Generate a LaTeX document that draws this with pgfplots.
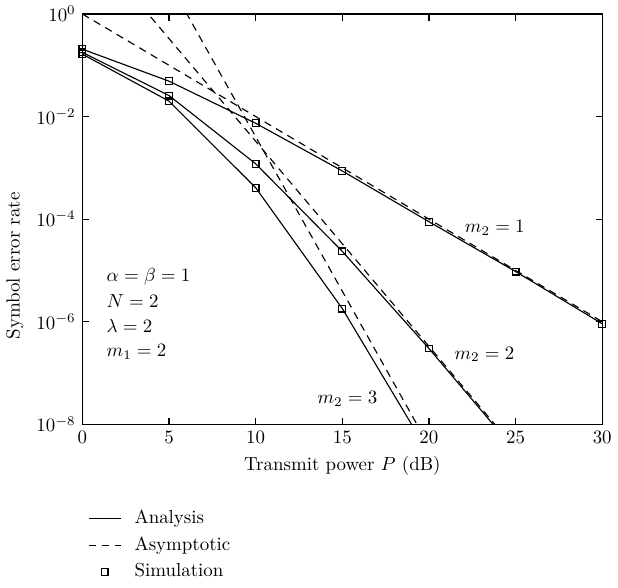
\documentclass[border=0pt]{standalone}
\usepackage{pgfplots}
\pgfplotsset{compat=1.18}

\begin{document}
\begin{tikzpicture}
\begin{axis}[
    scale only axis,
    width=275pt, height=217pt,
    xmin=0, xmax=30, ymode=log, ymin=1e-8, ymax=1,
    xtick={0,5,10,15,20,25,30},
    ytick={1,1e-2,1e-4,1e-6,1e-8},
    yminorticks=false,
    tick align=inside,
    major tick length=3.5pt,
    axis line style={line width=0.6pt},
    every tick/.style={black, line width=0.6pt},
    xlabel={Transmit power $P$ (dB)},
    ylabel={Symbol error rate},
    ylabel style={at={(ticklabel cs:0.386)}},
    legend style={at={(0.01,-0.19)}, anchor=north west, draw=none, fill=none,
        inner xsep=0pt, row sep=1.5pt,
        /tikz/every odd column/.append style={column sep=5pt}},
    legend cell align=left,
    clip=true,
]
\addlegendimage{black, line width=0.6pt}
\addlegendentry{Analysis}
\addlegendimage{black, line width=0.6pt, dash pattern=on 4pt off 3pt}
\addlegendentry{Asymptotic}
\addlegendimage{only marks, mark=square, mark size=1.8pt, black, mark options={line width=0.6pt}}
\addlegendentry{Simulation}

% analysis, m2 = 1, 2, 3
\addplot[black, line width=0.6pt, forget plot] coordinates {
    (0,0.206) (5,0.049) (10,7.4e-3) (15,8.7e-4) (20,8.9e-5) (25,9.5e-6) (30,9.1e-7)};
\addplot[black, line width=0.6pt, forget plot] coordinates {
    (0,0.178) (5,0.0257) (10,1.2e-3) (15,2.35e-5) (20,3.0e-7) (25,3.0e-9)};
\addplot[black, line width=0.6pt, forget plot] coordinates {
    (0,0.165) (5,0.020) (10,4.1e-4) (15,1.8e-6) (20,2.7e-9)};

% asymptotic
\addplot[black, line width=0.6pt, dash pattern=on 4pt off 3pt, forget plot] coordinates {
    (0,1) (30,1e-6)};
\addplot[black, line width=0.6pt, dash pattern=on 4pt off 3pt, forget plot] coordinates {
    (0,33.1) (25,3.3e-9)};
\addplot[black, line width=0.6pt, dash pattern=on 4pt off 3pt, forget plot] coordinates {
    (0,4325) (20,3.8e-9)};

% simulation
\addplot[only marks, mark=square, mark size=1.8pt, black, mark options={line width=0.6pt}, forget plot] coordinates {
    (0,0.206) (5,0.049) (10,7.4e-3) (15,8.7e-4) (20,8.9e-5) (25,9.5e-6) (30,9.1e-7)
    (0,0.178) (5,0.0257) (10,1.2e-3) (15,2.35e-5) (20,3.0e-7)
    (0,0.165) (5,0.020) (10,4.1e-4) (15,1.8e-6)};

\node at (axis cs:23.8,6.8e-5) {$m_2 = 1$};
\node at (axis cs:23.2,2.3e-7) {$m_2 = 2$};
\node at (axis cs:15.3,3.1e-8) {$m_2 = 3$};
\node[anchor=west, inner sep=0pt] at (axis cs:1.38,7.6e-6) {$\alpha = \beta = 1$};
\node[anchor=west, inner sep=0pt] at (axis cs:1.38,2.5e-6) {$N = 2$};
\node[anchor=west, inner sep=0pt] at (axis cs:1.38,8.1e-7) {$\lambda = 2$};
\node[anchor=west, inner sep=0pt] at (axis cs:1.38,2.6e-7) {$m_1 = 2$};
\end{axis}
\end{tikzpicture}
\end{document}
